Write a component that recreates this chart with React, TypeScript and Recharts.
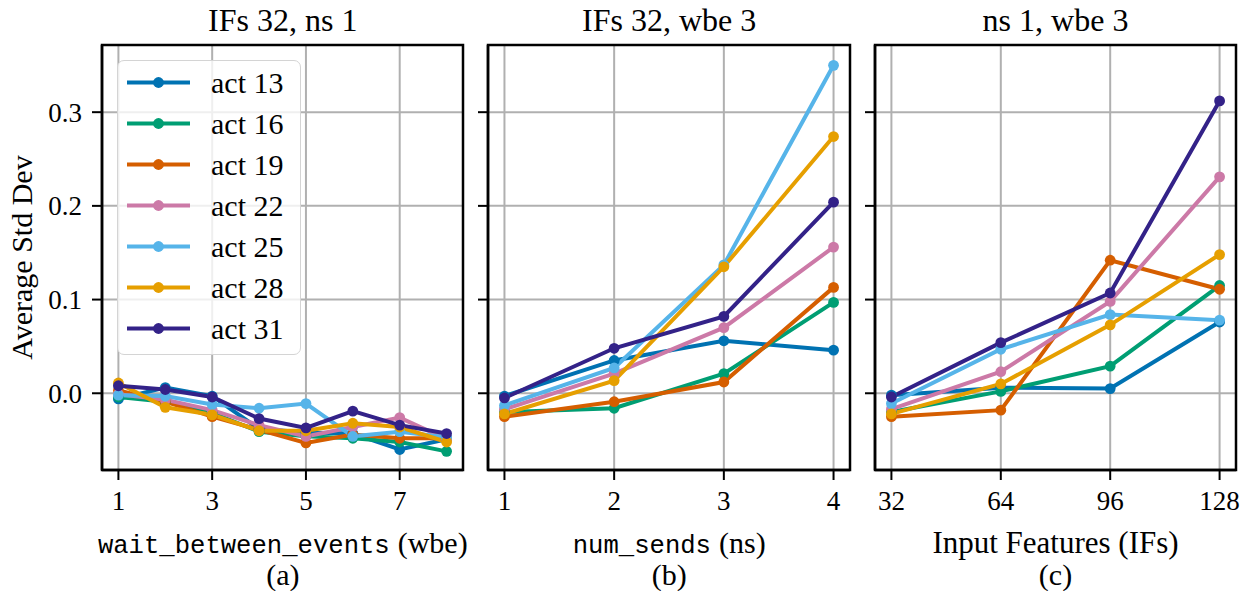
import React from "react";
import {
  LineChart,
  Line,
  XAxis,
  YAxis,
  CartesianGrid,
  ReferenceArea,
  Legend,
} from "recharts";

// ---------- data ----------
const seriesKeys = ["act13", "act16", "act19", "act22", "act25", "act28", "act31"];
const seriesNames = ["act 13", "act 16", "act 19", "act 22", "act 25", "act 28", "act 31"];
const seriesColors = ["#0072b2", "#009e73", "#d55e00", "#cc79a7", "#56b4e9", "#e69f00", "#332288"];

// (a) wait_between_events
const wbeValues = [1, 2, 3, 4, 5, 6, 7, 8];
const wbeAct13 = [-0.006, 0.006, -0.003, -0.038, -0.042, -0.043, -0.06, -0.049];
const wbeAct16 = [-0.004, -0.009, -0.021, -0.041, -0.046, -0.048, -0.052, -0.062];
const wbeAct19 = [0.003, -0.009, -0.025, -0.039, -0.053, -0.044, -0.048, -0.048];
const wbeAct22 = [-0.001, -0.007, -0.018, -0.034, -0.046, -0.036, -0.026, -0.049];
const wbeAct25 = [-0.002, -0.003, -0.012, -0.016, -0.011, -0.046, -0.041, -0.047];
const wbeAct28 = [0.011, -0.015, -0.023, -0.04, -0.04, -0.032, -0.036, -0.052];
const wbeAct31 = [0.008, 0.004, -0.004, -0.027, -0.037, -0.019, -0.034, -0.043];

// (b) num_sends
const nsValues = [1, 2, 3, 4];
const nsAct13 = [-0.003, 0.035, 0.056, 0.046];
const nsAct16 = [-0.02, -0.016, 0.021, 0.097];
const nsAct19 = [-0.025, -0.009, 0.012, 0.113];
const nsAct22 = [-0.017, 0.021, 0.07, 0.156];
const nsAct25 = [-0.013, 0.027, 0.137, 0.35];
const nsAct28 = [-0.022, 0.0135, 0.135, 0.274];
const nsAct31 = [-0.005, 0.048, 0.082, 0.204];

// (c) Input Features
const ifsValues = [32, 64, 96, 128];
const ifsAct13 = [-0.002, 0.006, 0.005, 0.076];
const ifsAct16 = [-0.02, 0.002, 0.029, 0.115];
const ifsAct19 = [-0.025, -0.018, 0.142, 0.111];
const ifsAct22 = [-0.017, 0.023, 0.098, 0.231];
const ifsAct25 = [-0.011, 0.047, 0.084, 0.078];
const ifsAct28 = [-0.022, 0.01, 0.073, 0.148];
const ifsAct31 = [-0.004, 0.054, 0.107, 0.312];

const wbeTicks = [1, 3, 5, 7];
const nsTicks = [1, 2, 3, 4];
const ifsTicks = [32, 64, 96, 128];
const yTicks = [0, 0.1, 0.2, 0.3];
const yDomain = [-0.0819, 0.3717];

const titles = ["IFs 32, ns 1", "IFs 32, wbe 3", "ns 1, wbe 3"];
const captions = ["(a)", "(b)", "(c)"];

function toRows(xs: number[], cols: number[][]) {
  return xs.map((x, i) => {
    const row: Record<string, number> = { x };
    seriesKeys.forEach((k, j) => {
      row[k] = cols[j][i];
    });
    return row;
  });
}

const wbeData = toRows(wbeValues, [wbeAct13, wbeAct16, wbeAct19, wbeAct22, wbeAct25, wbeAct28, wbeAct31]);
const nsData = toRows(nsValues, [nsAct13, nsAct16, nsAct19, nsAct22, nsAct25, nsAct28, nsAct31]);
const ifsData = toRows(ifsValues, [ifsAct13, ifsAct16, ifsAct19, ifsAct22, ifsAct25, ifsAct28, ifsAct31]);

// ---------- styles ----------
const SERIF = "'Liberation Serif', 'Times New Roman', serif";
const MONO = "'Liberation Mono', 'DejaVu Sans Mono', monospace";
const H = 591;
const LINE_W = 4;
const DOT_R = 5.4;

const LegendBox = (props: any) => {
  const payload = props.payload || [];
  return (
    <div
      style={{
        position: "relative",
        width: 184,
        height: 295,
        boxSizing: "border-box",
        background: "rgba(255,255,255,0.8)",
        border: "1.5px solid #d4d4d4",
        borderRadius: 7,
      }}
    >
      {payload.map((p: any, i: number) => (
        <div
          key={i}
          style={{
            position: "absolute",
            left: 0,
            top: 0.5 + 41 * i,
            height: 41,
            width: 182,
            display: "flex",
            alignItems: "center",
          }}
        >
          <svg width={90} height={41} style={{ flex: "none" }}>
            <line x1={9} x2={72} y1={20.5} y2={20.5} stroke={p.color} strokeWidth={LINE_W} />
            <circle cx={40.5} cy={20.5} r={DOT_R} fill={p.color} />
          </svg>
          <span
            style={{
              fontFamily: SERIF,
              fontSize: 30,
              lineHeight: "41px",
              color: "#000",
              marginLeft: 3,
              whiteSpace: "nowrap",
            }}
          >
            {p.value}
          </span>
        </div>
      ))}
    </div>
  );
};

type PanelProps = {
  left: number;
  width: number;
  yAxisWidth: number;
  rightMargin: number;
  data: Record<string, number>[];
  xDomain: number[];
  xTicks: number[];
  showYLabels: boolean;
  showLegend: boolean;
};

const Panel = ({ left, width, yAxisWidth, rightMargin, data, xDomain, xTicks, showYLabels, showLegend }: PanelProps) => (
  <div style={{ position: "absolute", left, top: 0 }}>
    <LineChart
      width={width}
      height={H}
      data={data}
      margin={{ top: 45, right: rightMargin, bottom: 0, left: 0 }}
    >
      <CartesianGrid stroke="#b0b0b0" strokeWidth={2} />
      <XAxis
        dataKey="x"
        type="number"
        domain={xDomain}
        ticks={xTicks}
        allowDataOverflow
        height={121}
        axisLine={{ stroke: "#000", strokeWidth: 2.5 }}
        tickLine={{ stroke: "#000", strokeWidth: 2 }}
        tickSize={10}
        tickMargin={11}
        tick={{ fill: "#000", fontSize: 27, fontFamily: SERIF }}
        interval={0}
      />
      <YAxis
        type="number"
        domain={yDomain}
        ticks={yTicks}
        allowDataOverflow
        width={yAxisWidth}
        axisLine={{ stroke: "#000", strokeWidth: 2.5 }}
        tickLine={{ stroke: "#000", strokeWidth: 2 }}
        tickSize={10}
        tickMargin={10}
        tick={{ fill: "#000", fontSize: 27, fontFamily: SERIF }}
        tickFormatter={(v: number) => (showYLabels ? v.toFixed(1) : "")}
        interval={0}
      />
      {seriesKeys.map((k, i) => (
        <Line
          key={k}
          dataKey={k}
          name={seriesNames[i]}
          type="linear"
          stroke={seriesColors[i]}
          strokeWidth={LINE_W}
          dot={{ r: DOT_R, fill: seriesColors[i], stroke: seriesColors[i], strokeWidth: 0 }}
          activeDot={false}
          isAnimationActive={false}
        />
      ))}
      <ReferenceArea
        x1={xDomain[0]}
        x2={xDomain[1]}
        y1={yDomain[0]}
        y2={yDomain[1]}
        fill="none"
        fillOpacity={0}
        stroke="#000"
        strokeWidth={2.5}
        ifOverflow="visible"
      />
      {showLegend && (
        <Legend
          layout="vertical"
          align="center"
          verticalAlign="middle"
          wrapperStyle={{ left: 117, top: 60, width: 184, height: 295 }}
          content={LegendBox}
        />
      )}
    </LineChart>
  </div>
);

const centers = [282.8, 669.2, 1055.5];

export default function App() {
  return (
    <div style={{ position: "absolute", left: 0, top: 0, width: 1255, height: H, background: "#fff" }}>
      <Panel
        left={0}
        width={480}
        yAxisWidth={102}
        rightMargin={17}
        data={wbeData}
        xDomain={[0.65, 8.35]}
        xTicks={wbeTicks}
        showYLabels
        showLegend
      />
      <Panel
        left={470}
        width={400}
        yAxisWidth={18}
        rightMargin={20}
        data={nsData}
        xDomain={[0.85, 4.15]}
        xTicks={nsTicks}
        showYLabels={false}
        showLegend={false}
      />
      <Panel
        left={860}
        width={395}
        yAxisWidth={15}
        rightMargin={19}
        data={ifsData}
        xDomain={[27.2, 132.8]}
        xTicks={ifsTicks}
        showYLabels={false}
        showLegend={false}
      />
      <svg
        width={1255}
        height={H}
        style={{ position: "absolute", left: 0, top: 0, pointerEvents: "none" }}
      >
        {titles.map((t, i) => (
          <text key={t} x={centers[i]} y={31} textAnchor="middle" fontFamily={SERIF} fontSize={32} fill="#000">
            {t}
          </text>
        ))}
        <text x={centers[0]} y={553} textAnchor="middle" fontSize={30} fill="#000" fontFamily={SERIF}>
          <tspan fontFamily={MONO} fontSize={25.6}>wait_between_events</tspan>
          <tspan dx={8}>(wbe)</tspan>
        </text>
        <text x={centers[1]} y={553} textAnchor="middle" fontSize={30} fill="#000" fontFamily={SERIF}>
          <tspan fontFamily={MONO} fontSize={25.6}>num_sends</tspan>
          <tspan dx={8}>(ns)</tspan>
        </text>
        <text x={centers[2]} y={553} textAnchor="middle" fontSize={31} fill="#000" fontFamily={SERIF}>
          Input Features (IFs)
        </text>
        {captions.map((c, i) => (
          <text key={c} x={centers[i]} y={585} textAnchor="middle" fontFamily={SERIF} fontSize={30} fill="#000">
            {c}
          </text>
        ))}
        <text
          x={32}
          y={257.5}
          textAnchor="middle"
          fontFamily={SERIF}
          fontSize={30}
          fill="#000"
          transform="rotate(-90, 32, 257.5)"
        >
          Average Std Dev
        </text>
      </svg>
    </div>
  );
}
